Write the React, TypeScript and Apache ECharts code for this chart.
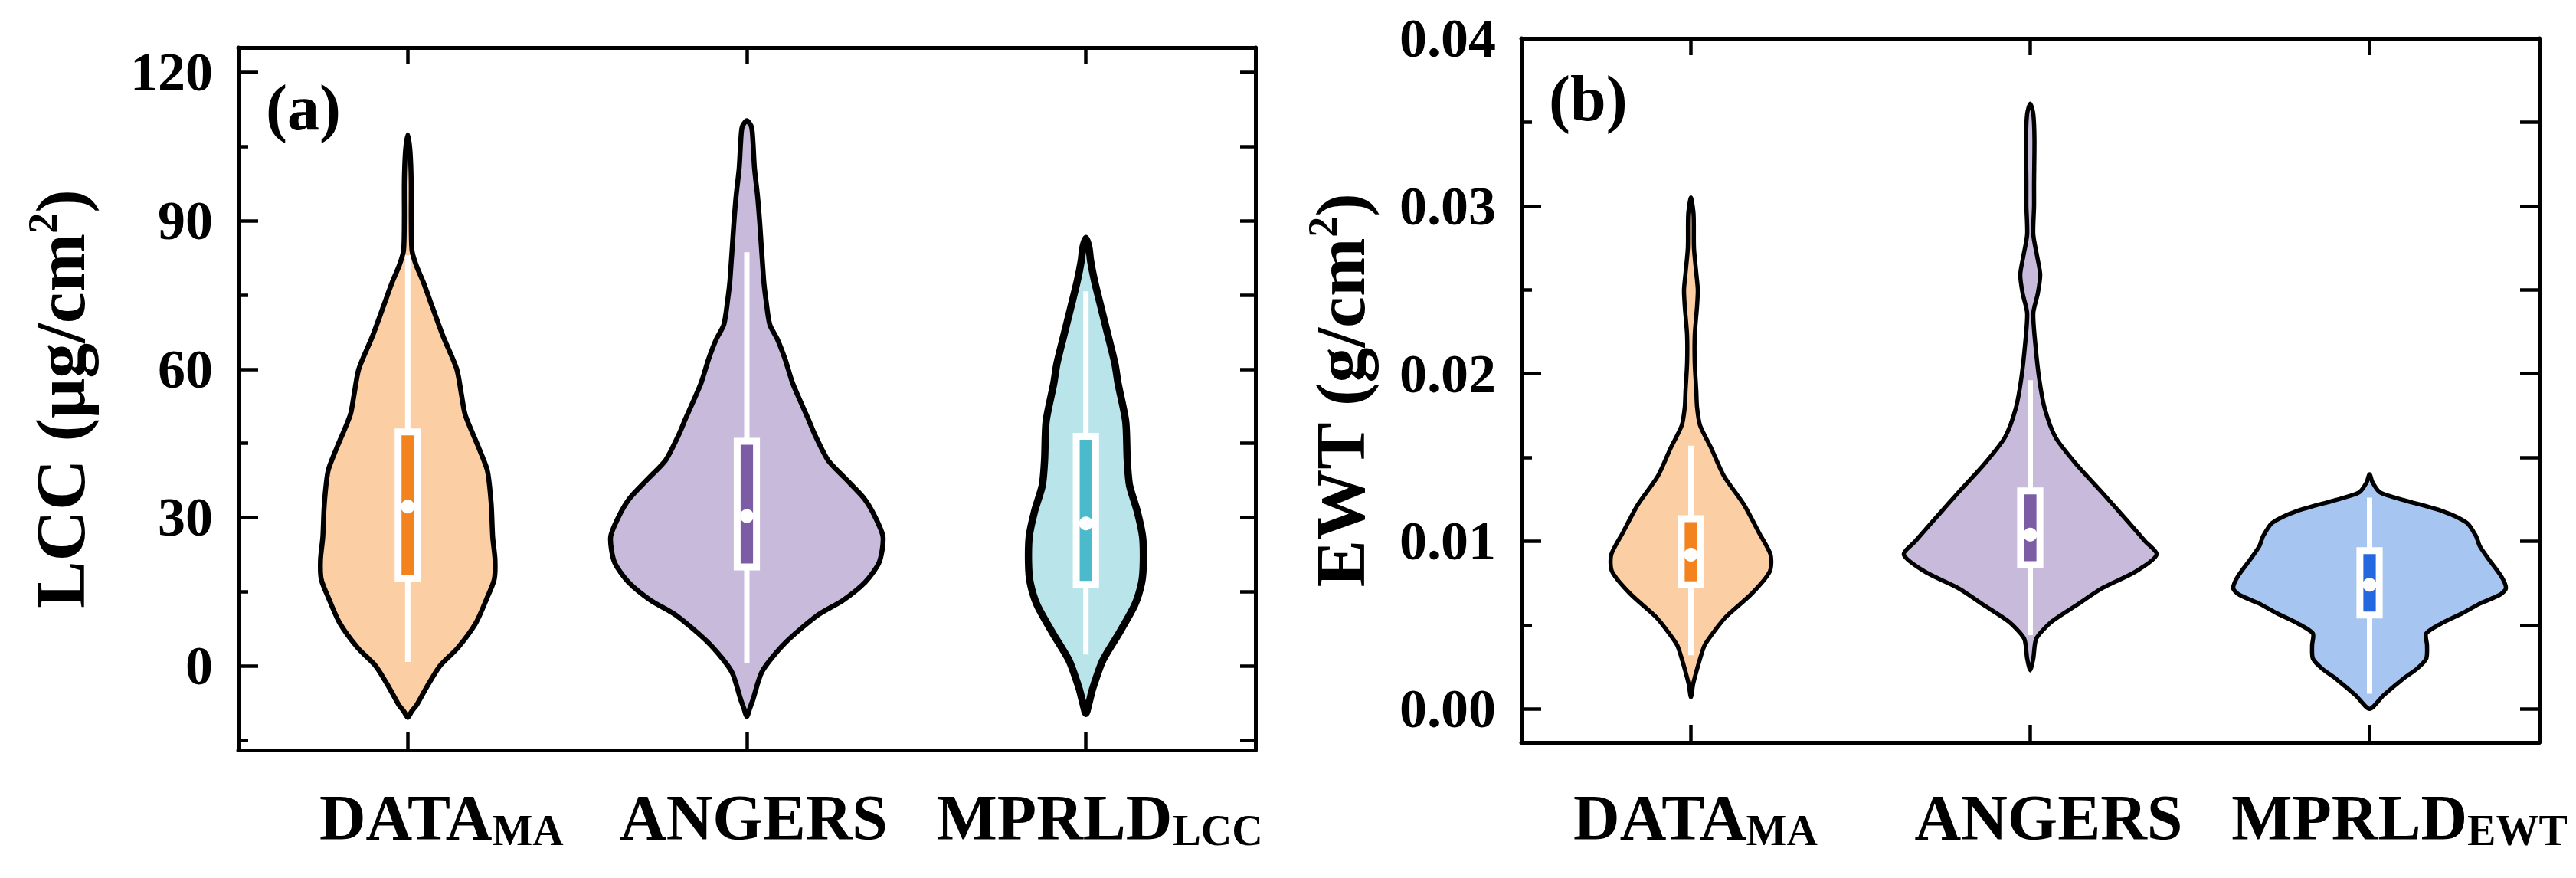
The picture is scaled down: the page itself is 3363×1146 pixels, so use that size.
import React, { useEffect, useRef } from 'react';
import * as echarts from 'echarts';

const FONT = "'Liberation Serif', 'Times New Roman', serif";

// ---------- categories ----------
const LCC_CATEGORIES = ['DATA_MA', 'ANGERS', 'MPRLD_LCC'];
const LCC_LABEL_MAIN = ['DATA', 'ANGERS', 'MPRLD'];
const LCC_LABEL_SUB = ['MA', '', 'LCC'];
const EWT_CATEGORIES = ['DATA_MA', 'ANGERS', 'MPRLD_EWT'];
const EWT_LABEL_MAIN = ['DATA', 'ANGERS', 'MPRLD'];
const EWT_LABEL_SUB = ['MA', '', 'EWT'];

// ---------- tick labels ----------
const LCC_TICKS = [0, 30, 60, 90, 120];
const LCC_MINOR_TICKS = [-15, 15, 45, 75, 105];
const LCC_RIGHT_TICKS = [-15, 0, 15, 30, 45, 60, 75, 90, 105, 120];
const EWT_TICKS = [0, 0.01, 0.02, 0.03, 0.04];
const EWT_MINOR_TICKS = [0.005, 0.015, 0.025, 0.035];
const EWT_RIGHT_TICKS = [0, 0.005, 0.01, 0.015, 0.02, 0.025, 0.03, 0.035];

// ---------- violin density profiles [value, density] ----------
const LCC_DATA_MA_PROFILE = [
  [-10.4, 0], [-9.2, 5], [-7.8, 12], [-4.2, 25], [0, 42], [3.6, 65], [8.7, 89], [13.9, 104],
  [17.5, 113], [21.5, 114], [26, 111], [32.8, 109], [39.5, 104], [44, 93], [50.8, 75], [55, 70],
  [60, 64], [66.7, 46], [72.6, 32], [77.7, 20], [81, 11], [84, 5.5], [90, 4.5], [98, 4.5],
  [104, 3], [107.4, 0],
];
const LCC_ANGERS_PROFILE = [
  [-10.2, 0], [-8.5, 4], [-6.8, 8], [-1.1, 20], [4.5, 49], [10.2, 92], [13.3, 126], [17, 155],
  [21, 173], [26, 178], [30, 168], [33.9, 153], [38, 128], [41.6, 106], [46.7, 89], [50, 80],
  [57.1, 60], [62, 50], [66, 40], [69, 30], [74, 25], [78, 22], [89.3, 17], [95, 14],
  [100.6, 10], [106, 8], [109, 6], [110.2, 0],
];
const LCC_MPRLD_PROFILE = [
  [-9.6, 0], [-7.5, 4], [-4.5, 9], [1.1, 22], [6.8, 44], [12.4, 64], [17, 73], [21, 75],
  [26.2, 74], [31.3, 67], [36.5, 57], [41.6, 54], [49.4, 52], [57.1, 42], [61, 38], [66.7, 29],
  [72.3, 20], [78, 11], [82, 6], [84.5, 4], [86.4, 0],
];
const EWT_DATA_MA_PROFILE = [
  [0.0007, 0], [0.0015, 3], [0.0022, 7], [0.003, 12], [0.0038, 18], [0.0046, 30], [0.0055, 46],
  [0.0069, 80], [0.0082, 103], [0.0092, 104], [0.0105, 89], [0.0122, 69], [0.0139, 43],
  [0.0156, 26], [0.0169, 12], [0.018, 8], [0.019, 7], [0.0206, 5], [0.0223, 5], [0.024, 8],
  [0.025, 9], [0.026, 7], [0.0275, 4], [0.0295, 3.5], [0.0305, 0],
];
const EWT_ANGERS_PROFILE = [
  [0.0023, 0], [0.003, 4], [0.0042, 8], [0.0052, 28], [0.0062, 61], [0.0072, 94], [0.0082, 138],
  [0.0092, 165], [0.01, 150], [0.0112, 127], [0.0129, 94], [0.0146, 60], [0.0162, 33],
  [0.0179, 19], [0.0196, 12], [0.0216, 7], [0.0236, 4], [0.0248, 10], [0.0259, 13], [0.027, 9],
  [0.0283, 4], [0.03, 5], [0.0313, 5], [0.034, 5.5], [0.0355, 4], [0.0361, 0],
];
const EWT_MPRLD_PROFILE = [
  [0, 0], [0.0008, 18], [0.0018, 44], [0.0024, 62], [0.003, 74], [0.0038, 75], [0.0045, 74],
  [0.0051, 94], [0.0057, 121], [0.0063, 145], [0.0068, 170], [0.0072, 178], [0.0079, 172],
  [0.0089, 156], [0.0097, 144], [0.0103, 139], [0.0111, 127], [0.0118, 95], [0.01245, 45],
  [0.0129, 14], [0.0135, 4], [0.014, 0],
];

// ---------- box plot statistics ----------
const LCC_Q1 = [17.6, 20, 16.5];
const LCC_MEDIAN = [32.2, 30.3, 28.8];
const LCC_Q3 = [47.3, 45.4, 46.4];
const LCC_WHISKER_LOW = [0.8, 0.6, 2.3];
const LCC_WHISKER_HIGH = [83, 83.6, 75.7];

const EWT_Q1 = [0.0074, 0.0086, 0.0056];
const EWT_MEDIAN = [0.0092, 0.0104, 0.0074];
const EWT_Q3 = [0.01134, 0.013, 0.00944];
const EWT_WHISKER_LOW = [0.0032, 0.0044, 0.0009];
const EWT_WHISKER_HIGH = [0.0157, 0.0196, 0.0126];

// ---------- styles ----------
const LCC_FILLS = ['#FBCEA4', '#C8BADB', '#B9E4EA'];
const LCC_INNER = ['#F3831F', '#7D5CA6', '#4BBBCB'];
const LCC_STROKE_W = [6.5, 6.5, 9.5];
const EWT_FILLS = ['#FBCEA4', '#C8BADB', '#A7C5F1'];
const EWT_INNER = ['#F3831F', '#7D5CA6', '#2468DF'];
const EWT_STROKE_W = [5.5, 5.5, 5.5];
const LCC_LABEL_SHIFT = [44, 9, 18];
const EWT_LABEL_SHIFT = [6, 24, 39];

const DENSITY_SCALE = 1 / 443; // density unit -> band fraction
const BOX_W = 0.057; // band fraction

function makeRenderItem(
  profiles: number[][][], q1: number[], med: number[], q3: number[],
  wl: number[], wh: number[], fills: string[], inners: string[], strokeW: number[]
) {
  return (params: any, api: any) => {
    const i = params.dataIndex;
    const bw = api.size([1, 0])[0];
    const c = api.coord([i, med[i]]);
    const cx = c[0];
    const prof = profiles[i];
    const right = prof.map(([v, d]) => [cx + d * DENSITY_SCALE * bw, api.coord([i, v])[1]]);
    const left = prof.slice(1, -1).reverse().map(([v, d]) => [cx - d * DENSITY_SCALE * bw, api.coord([i, v])[1]]);
    const points = right.concat(left);
    const yTop = api.coord([i, q3[i]])[1];
    const yBot = api.coord([i, q1[i]])[1];
    const w = BOX_W * bw;
    return {
      type: 'group',
      children: [
        {
          type: 'polygon',
          shape: { points, smooth: 0.25 },
          style: { fill: fills[i], stroke: '#000', lineWidth: strokeW[i], lineJoin: 'round' },
        },
        {
          type: 'line',
          shape: { x1: cx, y1: api.coord([i, wl[i]])[1], x2: cx, y2: api.coord([i, wh[i]])[1] },
          style: { stroke: '#fff', lineWidth: 7 },
        },
        {
          type: 'rect',
          shape: { x: cx - w / 2, y: yTop, width: w, height: yBot - yTop },
          style: { fill: inners[i], stroke: '#fff', lineWidth: 9 },
        },
        {
          type: 'circle',
          shape: { cx, cy: c[1], r: 9 },
          style: { fill: '#fff' },
        },
      ],
    };
  };
}

function catRich(shifts: number[]) {
  const rich: any = {
    s: { fontFamily: FONT, fontWeight: 'bold', fontSize: 56, lineHeight: 34, verticalAlign: 'bottom', color: '#000' },
  };
  shifts.forEach((d, i) => {
    rich['m' + i] = {
      fontFamily: FONT, fontWeight: 'bold', fontSize: 84, lineHeight: 90, color: '#000',
      padding: [0, 0, 0, 2 * d],
    };
  });
  return rich;
}

function catFormatter(main: string[], sub: string[]) {
  return (_v: string, i: number) => `{m${i}|${main[i]}}` + (sub[i] ? `{s|${sub[i]}}` : '');
}

const AXIS_LINE = { show: true, onZero: false, lineStyle: { color: '#000', width: 5 } };

export default function App() {
  const ref = useRef<HTMLDivElement>(null);
  useEffect(() => {
    if (!ref.current) return;
    const chart = echarts.init(ref.current, null, { renderer: 'svg' });
    const tickLabelStyle = { fontFamily: FONT, fontWeight: 'bold', fontSize: 72, color: '#000' };
    const option: any = {
      animation: false,
      backgroundColor: '#fff',
      grid: [
        { left: 311, top: 62, width: 1328, height: 917 },
        { left: 1986, top: 50, width: 1329, height: 919 },
      ],
      xAxis: [
        {
          type: 'category', gridIndex: 0, position: 'bottom', data: LCC_CATEGORIES, boundaryGap: true,
          axisLine: AXIS_LINE,
          axisTick: { show: true, inside: true, alignWithLabel: true, interval: 0, length: 23, lineStyle: { color: '#000', width: 4.5 } },
          axisLabel: { show: true, interval: 0, margin: 43, formatter: catFormatter(LCC_LABEL_MAIN, LCC_LABEL_SUB), rich: catRich(LCC_LABEL_SHIFT) },
          splitLine: { show: false },
        },
        {
          type: 'category', gridIndex: 0, position: 'top', data: LCC_CATEGORIES, boundaryGap: true,
          axisLine: AXIS_LINE,
          axisTick: { show: true, inside: true, alignWithLabel: true, interval: 0, length: 22, lineStyle: { color: '#000', width: 4.5 } },
          axisLabel: { show: false },
          splitLine: { show: false },
        },
        {
          type: 'category', gridIndex: 1, position: 'bottom', data: EWT_CATEGORIES, boundaryGap: true,
          axisLine: AXIS_LINE,
          axisTick: { show: true, inside: true, alignWithLabel: true, interval: 0, length: 23, lineStyle: { color: '#000', width: 4.5 } },
          axisLabel: { show: true, interval: 0, margin: 53, formatter: catFormatter(EWT_LABEL_MAIN, EWT_LABEL_SUB), rich: catRich(EWT_LABEL_SHIFT) },
          splitLine: { show: false },
        },
        {
          type: 'category', gridIndex: 1, position: 'top', data: EWT_CATEGORIES, boundaryGap: true,
          axisLine: AXIS_LINE,
          axisTick: { show: true, inside: true, alignWithLabel: true, interval: 0, length: 22, lineStyle: { color: '#000', width: 4.5 } },
          axisLabel: { show: false },
          splitLine: { show: false },
        },
      ],
      yAxis: [
        {
          type: 'value', gridIndex: 0, position: 'left', min: -17, max: 125,
          axisLine: AXIS_LINE,
          axisTick: { show: true, inside: true, length: 26, customValues: LCC_TICKS, lineStyle: { color: '#000', width: 4.5 } },
          axisLabel: { show: true, margin: 33, customValues: LCC_TICKS, formatter: (v: number) => String(v), ...tickLabelStyle },
          splitLine: { show: false },
          name: 'LCC (μg/cm{sup|2})', nameLocation: 'middle', nameRotate: 90, nameGap: 182,
          nameTextStyle: {
            fontFamily: FONT, fontWeight: 'bold', fontSize: 92, lineHeight: 100, color: '#000',
            rich: { sup: { fontFamily: FONT, fontWeight: 'bold', fontSize: 54, lineHeight: 32, verticalAlign: 'top', color: '#000' } },
          },
        },
        {
          type: 'value', gridIndex: 0, position: 'left', min: -17, max: 125,
          axisLine: { show: false },
          axisTick: { show: true, inside: true, length: 13, customValues: LCC_MINOR_TICKS, lineStyle: { color: '#000', width: 4.5 } },
          axisLabel: { show: false },
          splitLine: { show: false },
        },
        {
          type: 'value', gridIndex: 0, position: 'right', min: -17, max: 125,
          axisLine: AXIS_LINE,
          axisTick: { show: true, inside: true, length: 20, customValues: LCC_RIGHT_TICKS, lineStyle: { color: '#000', width: 4.5 } },
          axisLabel: { show: false },
          splitLine: { show: false },
        },
        {
          type: 'value', gridIndex: 1, position: 'left', min: -0.002, max: 0.04,
          axisLine: AXIS_LINE,
          axisTick: { show: true, inside: true, length: 26, customValues: EWT_TICKS, lineStyle: { color: '#000', width: 4.5 } },
          axisLabel: { show: true, margin: 33, customValues: EWT_TICKS, formatter: (v: number) => v.toFixed(2), ...tickLabelStyle },
          splitLine: { show: false },
          name: 'EWT (g/cm{sup|2})', nameLocation: 'middle', nameRotate: 90, nameGap: 186,
          nameTextStyle: {
            fontFamily: FONT, fontWeight: 'bold', fontSize: 92, lineHeight: 100, color: '#000',
            rich: { sup: { fontFamily: FONT, fontWeight: 'bold', fontSize: 54, lineHeight: 32, verticalAlign: 'top', color: '#000' } },
          },
        },
        {
          type: 'value', gridIndex: 1, position: 'left', min: -0.002, max: 0.04,
          axisLine: { show: false },
          axisTick: { show: true, inside: true, length: 14, customValues: EWT_MINOR_TICKS, lineStyle: { color: '#000', width: 4.5 } },
          axisLabel: { show: false },
          splitLine: { show: false },
        },
        {
          type: 'value', gridIndex: 1, position: 'right', min: -0.002, max: 0.04,
          axisLine: AXIS_LINE,
          axisTick: { show: true, inside: true, length: 25, customValues: EWT_RIGHT_TICKS, lineStyle: { color: '#000', width: 4.5 } },
          axisLabel: { show: false },
          splitLine: { show: false },
        },
      ],
      series: [
        {
          type: 'custom', xAxisIndex: 0, yAxisIndex: 0,
          data: LCC_CATEGORIES.map((_c, i) => [i, LCC_MEDIAN[i]]),
          encode: { x: 0, y: 1 },
          renderItem: makeRenderItem(
            [LCC_DATA_MA_PROFILE, LCC_ANGERS_PROFILE, LCC_MPRLD_PROFILE],
            LCC_Q1, LCC_MEDIAN, LCC_Q3, LCC_WHISKER_LOW, LCC_WHISKER_HIGH, LCC_FILLS, LCC_INNER, LCC_STROKE_W
          ),
        },
        {
          type: 'custom', xAxisIndex: 2, yAxisIndex: 3,
          data: EWT_CATEGORIES.map((_c, i) => [i, EWT_MEDIAN[i]]),
          encode: { x: 0, y: 1 },
          renderItem: makeRenderItem(
            [EWT_DATA_MA_PROFILE, EWT_ANGERS_PROFILE, EWT_MPRLD_PROFILE],
            EWT_Q1, EWT_MEDIAN, EWT_Q3, EWT_WHISKER_LOW, EWT_WHISKER_HIGH, EWT_FILLS, EWT_INNER, EWT_STROKE_W
          ),
        },
      ],
      graphic: [
        {
          type: 'text', x: 347, y: 140,
          style: { text: '(a)', fontFamily: FONT, fontWeight: 'bold', fontSize: 84, fill: '#000', verticalAlign: 'middle', align: 'left' },
        },
        {
          type: 'text', x: 2022, y: 128,
          style: { text: '(b)', fontFamily: FONT, fontWeight: 'bold', fontSize: 84, fill: '#000', verticalAlign: 'middle', align: 'left' },
        },
      ],
    };
    chart.setOption(option);
    return () => chart.dispose();
  }, []);
  return (
    <div
      ref={ref}
      style={{ position: 'fixed', left: 0, top: 0, width: '3363px', height: '1146px', background: '#fff' }}
    />
  );
}
